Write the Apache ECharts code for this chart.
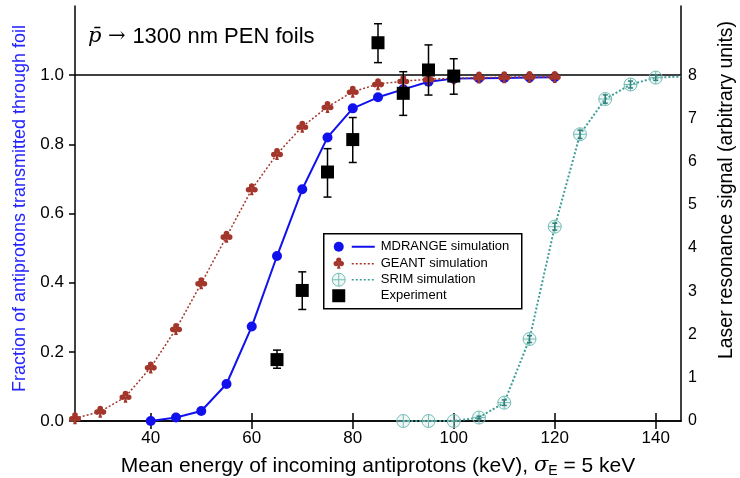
<!DOCTYPE html>
<html>
<head>
<meta charset="utf-8">
<script src="https://cdn.jsdelivr.net/npm/echarts@6/dist/echarts.min.js"></script>
<style>html,body{margin:0;padding:0;background:#fff}#c{width:740px;height:478px}</style>
</head>
<body>
<div id="c"></div>
<script>
// ---- data ----
const xMd = [40,45,50,55,60,65,70,75,80,85,90,95,100,105,110,115,120];
const yMd = [0.0,0.010,0.029,0.107,0.273,0.477,0.670,0.820,0.904,0.936,0.959,0.981,0.990,0.991,0.992,0.993,0.994];
const errMd = [0,0,0,0,0,0,0,0,0.006,0.008,0.008,0.008,0.008,0.008,0.008,0.008,0.006];

const xGe = [25,30,35,40,45,50,55,60,65,70,75,80,85,90,95,100,105,110,115,120];
const yGe = [0.008,0.027,0.070,0.155,0.266,0.398,0.533,0.670,0.772,0.851,0.908,0.952,0.974,0.983,0.988,0.991,0.993,0.994,0.995,0.995];

const xSr = [90,95,100,105,110,115,120,125,130,135,140,145];
const ySr = [0.0,0.0,0.0,0.010,0.053,0.237,0.562,0.829,0.931,0.973,0.993,0.996];
const errSr = [0,0,0,0.004,0.008,0.010,0.010,0.012,0.012,0.010,0.008,0];
const srHidden = [145];

const xEx = [65,70,75,80,85,90,95,100];
const yEx = [1.42,3.02,5.76,6.51,8.75,7.58,8.12,7.98];
const exLow = [1.22,2.58,5.18,5.98,8.29,7.07,7.54,7.56];
const exHigh = [1.64,3.45,6.30,7.02,9.19,8.08,8.70,8.38];

const xTicks = [40,60,80,100,120,140];
const yLeftTicks = [0,0.2,0.4,0.6,0.8,1.0];
const yRightTicks = [0,1,2,3,4,5,6,7,8];

const names = ['MDRANGE simulation','GEANT simulation','SRIM simulation','Experiment'];

// ---- styles ----
const FONT = 'Liberation Sans';
const BLUE = '#1111ee';
const BROWN = '#a3362b';
const TEAL = '#3f9e97';
const TEAL_L = '#74bdb6';
const CLUB = 'path://M16.5 7A4.5 4.5 0 1 1 7.5 7A4.5 4.5 0 1 1 16.5 7ZM11.5 13A4.5 4.5 0 1 1 2.5 13A4.5 4.5 0 1 1 11.5 13ZM21.5 13A4.5 4.5 0 1 1 12.5 13A4.5 4.5 0 1 1 21.5 13ZM12 10.5L15 22L9 22Z';
const OPLUS = 'path://M22 12A10 10 0 1 1 2 12A10 10 0 1 1 22 12ZM12 2L12 22M2 12L22 12';

function errSeries(xs, lo, hi, color, lw, cap, yAxisIndex, z) {
  return {
    type: 'custom', yAxisIndex: yAxisIndex, z: z, silent: true, clip: false,
    encode: {x: 0, y: [1, 2]},
    data: xs.map((x, i) => [x, lo[i], hi[i]]),
    renderItem: function (params, api) {
      const x = api.value(0);
      const p1 = api.coord([x, api.value(2)]);
      const p2 = api.coord([x, api.value(1)]);
      if (Math.abs(p2[1] - p1[1]) < 0.5) return null;
      const st = {stroke: color, lineWidth: lw};
      return {type: 'group', children: [
        {type: 'line', shape: {x1: p1[0], y1: p1[1], x2: p2[0], y2: p2[1]}, style: st},
        {type: 'line', shape: {x1: p1[0] - cap, y1: p1[1], x2: p1[0] + cap, y2: p1[1]}, style: st},
        {type: 'line', shape: {x1: p2[0] - cap, y1: p2[1], x2: p2[0] + cap, y2: p2[1]}, style: st}
      ]};
    }
  };
}

const chart = echarts.init(document.getElementById('c'), null, {renderer: 'canvas'});
const axisLine = {show: true, lineStyle: {color: '#000', width: 1.5}};
const txt = (s, y) => ({type: 'text', x: 57, y: y, style: {text: s, fontSize: 13, fontFamily: FONT, fill: '#000', verticalAlign: 'middle'}});
chart.setOption({
  animation: false,
  backgroundColor: '#fff',
  textStyle: {fontFamily: FONT},
  title: {
    text: '{m|p\u0304}{a| \u2192 }{t|1300 nm PEN foils}',
    left: 83, top: 21,
    textStyle: {
      fontWeight: 'normal',
      rich: {
        m: {fontFamily: 'DejaVu Serif', fontStyle: 'italic', fontWeight: 'normal', fontSize: 21, color: '#000'},
        a: {fontFamily: 'DejaVu Serif', fontWeight: 'normal', fontSize: 21, color: '#000'},
        t: {fontFamily: FONT, fontWeight: 'normal', fontSize: 22, color: '#000'}
      }
    }
  },
  grid: {left: 75, right: 59, top: 6, bottom: 57, outerBoundsMode: 'none'},
  xAxis: [{
    type: 'value', min: 25, max: 145, position: 'bottom',
    axisLine: axisLine,
    axisTick: {show: true, inside: true, length: 8, customValues: xTicks, lineStyle: {color: '#000', width: 1.5}},
    axisLabel: {customValues: xTicks, color: '#000', fontSize: 17, margin: 9, fontFamily: FONT},
    splitLine: {show: false},
    name: '{t|Mean energy of incoming antiprotons (keV), }{s|\u03c3}{b|E}{t| = 5 keV}',
    nameLocation: 'middle', nameGap: 33,
    nameTextStyle: {
      rich: {
        t: {fontSize: 21, color: '#000', fontFamily: FONT, lineHeight: 24},
        s: {fontSize: 21, color: '#000', fontFamily: 'DejaVu Serif', fontStyle: 'italic', lineHeight: 24},
        b: {fontSize: 14, color: '#000', fontFamily: FONT, lineHeight: 10, verticalAlign: 'bottom'}
      }
    }
  }, {
    type: 'value', min: 25, max: 145, position: 'top',
    axisLine: axisLine,
    axisTick: {show: true, inside: true, length: 8, customValues: xTicks, lineStyle: {color: '#000', width: 1.5}},
    axisLabel: {show: false},
    splitLine: {show: false}
  }],
  yAxis: [{
    type: 'value', min: 0, max: 1.2, position: 'left',
    axisLine: axisLine,
    axisTick: {show: true, inside: false, length: 6, customValues: yLeftTicks, lineStyle: {color: '#000', width: 1.5}},
    axisLabel: {customValues: yLeftTicks, color: '#000', fontSize: 17, margin: 11, fontFamily: FONT,
      formatter: v => v.toFixed(1)},
    splitLine: {show: false},
    name: 'Fraction of antiprotons transmitted through foil',
    nameLocation: 'middle', nameGap: 46, nameRotate: 90,
    nameTextStyle: {color: '#2323ff', fontSize: 18, fontFamily: FONT, padding: [0, 0, 0, 10]}
  }, {
    type: 'value', min: 0, max: 9.6, position: 'right',
    axisLine: axisLine,
    axisTick: {show: false},
    axisLabel: {customValues: yRightTicks, color: '#000', fontSize: 16, margin: 7, fontFamily: FONT},
    splitLine: {show: false},
    name: 'Laser resonance signal (arbitrary units)',
    nameLocation: 'middle', nameGap: 36, nameRotate: 90,
    nameTextStyle: {color: '#000', fontSize: 19.5, fontFamily: FONT, padding: [0, 0, 0, 47]}
  }],
  series: [
    errSeries(xMd, yMd.map((v, i) => v - errMd[i]), yMd.map((v, i) => v + errMd[i]), BLUE, 1.5, 3, 0, 3),
    {
      name: names[0], type: 'line', yAxisIndex: 0, z: 4, clip: false,
      data: xMd.map((x, i) => [x, yMd[i]]),
      symbol: 'circle', symbolSize: 10,
      lineStyle: {color: BLUE, width: 2},
      itemStyle: {color: BLUE},
      markLine: {
        silent: true, symbol: 'none', label: {show: false},
        lineStyle: {color: '#000', width: 1.5, type: 'solid'},
        data: [{yAxis: 1.0}]
      }
    },
    {
      name: names[1], type: 'line', yAxisIndex: 0, z: 5, clip: false,
      data: xGe.map((x, i) => [x, yGe[i]]),
      symbol: CLUB, symbolSize: 12,
      lineStyle: {color: BROWN, width: 1.5, type: [2, 2]},
      itemStyle: {color: BROWN}
    },
    errSeries(xSr, ySr.map((v, i) => v - errSr[i]), ySr.map((v, i) => v + errSr[i]), '#2f7f79', 1.5, 2.5, 0, 6),
    {
      name: names[2], type: 'line', yAxisIndex: 0, z: 5, clip: false,
      data: xSr.map((x, i) => srHidden.includes(x) ? {value: [x, ySr[i]], symbol: 'none'} : [x, ySr[i]]),
      symbol: OPLUS, symbolSize: 13,
      lineStyle: {color: TEAL, width: 2, type: [2, 2]},
      itemStyle: {color: 'rgba(120,190,184,0.12)', borderColor: TEAL_L, borderWidth: 1}
    },
    errSeries(xEx, exLow, exHigh, '#000', 1.5, 4, 1, 7),
    {
      name: names[3], type: 'scatter', yAxisIndex: 1, z: 8, clip: false,
      data: xEx.map((x, i) => [x, yEx[i]]),
      symbol: 'rect', symbolSize: 13,
      itemStyle: {color: '#000', opacity: 1}
    }
  ],
  graphic: [{
    type: 'group', left: 323, top: 233, z: 100,
    children: [
      {type: 'rect', shape: {x: 0, y: 0, width: 198, height: 75}, style: {fill: '#fff', stroke: '#000', lineWidth: 1.5}},
      {type: 'circle', shape: {cx: 15, cy: 13, r: 5}, style: {fill: BLUE}},
      {type: 'line', shape: {x1: 28, y1: 13, x2: 51, y2: 13}, style: {stroke: BLUE, lineWidth: 2}},
      txt(names[0], 13),
      {type: 'circle', shape: {cx: 15, cy: 26.3, r: 2.6}, style: {fill: BROWN}},
      {type: 'circle', shape: {cx: 12.4, cy: 29.8, r: 2.6}, style: {fill: BROWN}},
      {type: 'circle', shape: {cx: 17.6, cy: 29.8, r: 2.6}, style: {fill: BROWN}},
      {type: 'polygon', shape: {points: [[15, 28.5], [16.8, 35], [13.2, 35]]}, style: {fill: BROWN}},
      {type: 'line', shape: {x1: 28, y1: 30, x2: 51, y2: 30}, style: {stroke: BROWN, lineWidth: 1.5, lineDash: [2, 2]}},
      txt(names[1], 30),
      {type: 'circle', shape: {cx: 15, cy: 46, r: 6.5}, style: {fill: 'rgba(120,190,184,0.12)', stroke: TEAL_L, lineWidth: 1}},
      {type: 'line', shape: {x1: 15, y1: 39.5, x2: 15, y2: 52.5}, style: {stroke: TEAL_L, lineWidth: 1}},
      {type: 'line', shape: {x1: 8.5, y1: 46, x2: 21.5, y2: 46}, style: {stroke: TEAL_L, lineWidth: 1}},
      {type: 'line', shape: {x1: 28, y1: 46, x2: 51, y2: 46}, style: {stroke: TEAL, lineWidth: 1.5, lineDash: [2, 2]}},
      txt(names[2], 46),
      {type: 'rect', shape: {x: 8.5, y: 55.5, width: 13, height: 13}, style: {fill: '#000'}},
      txt(names[3], 62)
    ]
  }]
});
</script>
</body>
</html>
